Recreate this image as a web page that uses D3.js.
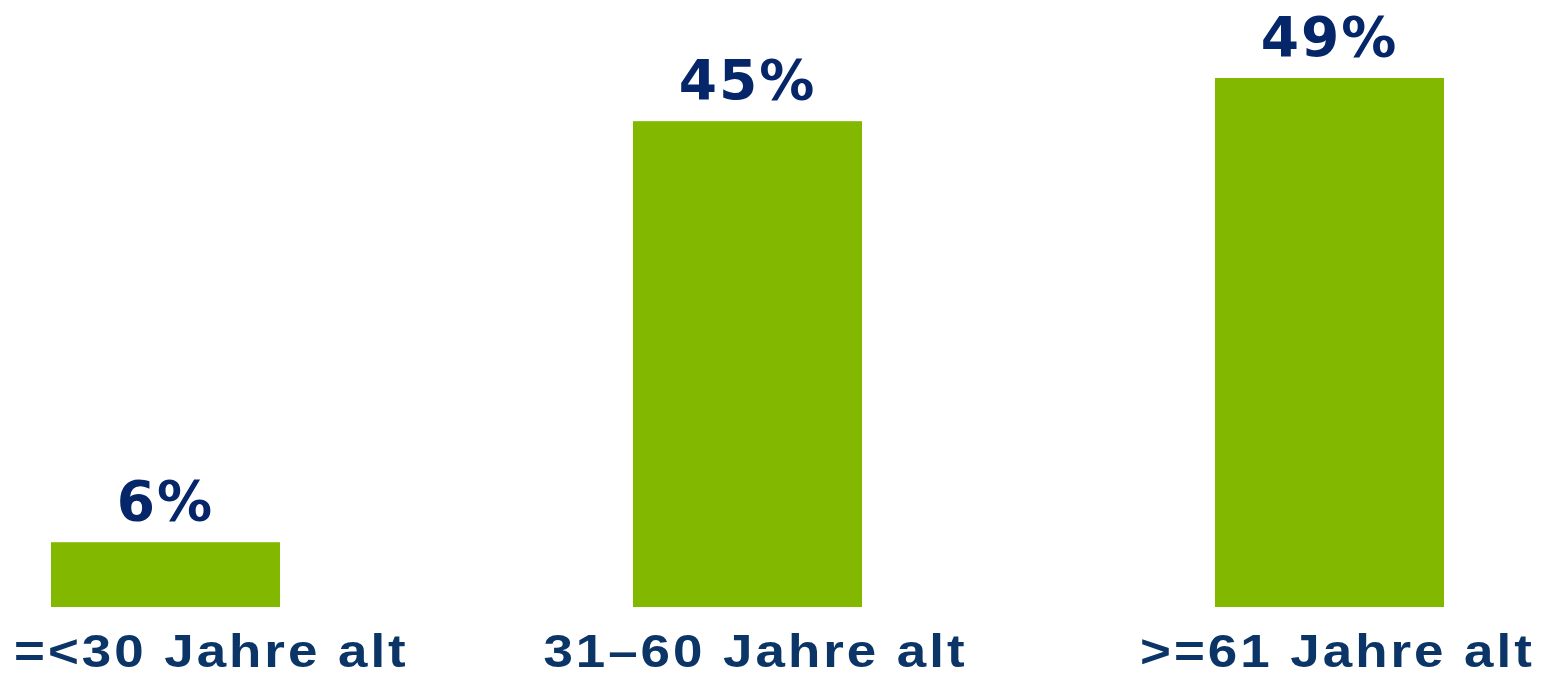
<!DOCTYPE html>
<html>
<head>
<meta charset="utf-8">
<script src="https://cdn.jsdelivr.net/npm/d3@7"></script>
<style>
  html, body { margin: 0; padding: 0; background: #fff; }
</style>
</head>
<body>
<div id="chart-container"></div>
<script>
    // Chart data
    const categories = ["=<30 Jahre alt", "31\u201360 Jahre alt", ">=61 Jahre alt"];
    const values = [6, 45, 49];
    const valueLabels = ["6%", "45%", "49%"];

    const width = 1557;
    const height = 677;

    const svg = d3.select("#chart-container")
        .append("svg")
        .attr("width", width)
        .attr("height", height);

    // Scales
    const x = d3.scaleBand()
        .domain(categories)
        .range([51, 1444])
        .paddingInner(0.6065)
        .paddingOuter(0);

    const y = d3.scaleLinear()
        .domain([0, 49])
        .range([607, 78]);

    // Bars
    svg.selectAll("rect.bar")
        .data(values)
        .join("rect")
        .attr("class", "bar")
        .attr("x", (d, i) => x(categories[i]))
        .attr("y", d => y(d))
        .attr("width", x.bandwidth())
        .attr("height", d => y(0) - y(d))
        .attr("fill", "#82b800");

    // Value labels above bars
    svg.selectAll("text.value")
        .data(values)
        .join("text")
        .attr("class", "value")
        .attr("x", (d, i) => x(categories[i]) + x.bandwidth() / 2)
        .attr("y", d => y(d) - 22)
        .attr("text-anchor", "middle")
        .attr("font-family", "DejaVu Sans")
        .attr("font-weight", "bold")
        .attr("font-size", 55)
        .attr("letter-spacing", 2)
        .attr("fill", "#06266a")
        .text((d, i) => valueLabels[i]);

    // Category labels under bars (a bit stretched), kept inside the picture
    const stretch = 1.15;
    const catLabels = svg.selectAll("text.cat")
        .data(categories)
        .join("text")
        .attr("class", "cat")
        .attr("x", 0)
        .attr("y", 0)
        .attr("font-family", "Liberation Sans")
        .attr("font-weight", "bold")
        .attr("font-size", 46)
        .attr("letter-spacing", 2.6)
        .attr("fill", "#0a3566")
        .text(d => d);

    catLabels.each(function (d) {
        const w = this.getComputedTextLength() * stretch;
        let left = x(d) + x.bandwidth() / 2 - w / 2 + 8;
        left = Math.max(14, Math.min(left, width - 12 - w));
        d3.select(this).attr("transform", `translate(${left},667) scale(${stretch},1)`);
    });
</script>
</body>
</html>
